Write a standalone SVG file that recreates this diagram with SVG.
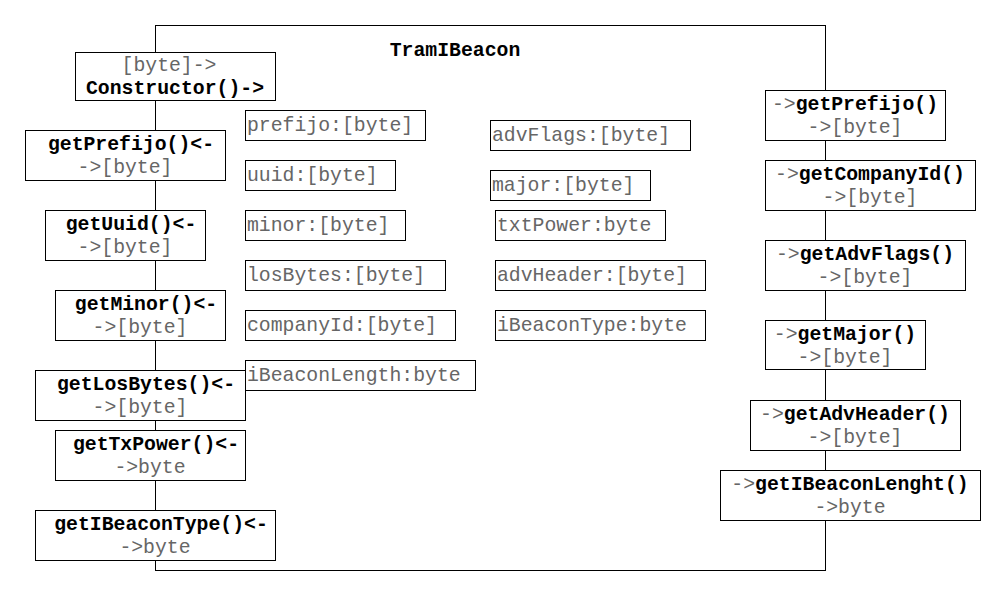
<svg xmlns="http://www.w3.org/2000/svg" width="1006" height="596" viewBox="0 0 1006 596">
<style>
rect{fill:#fff;stroke:#000;stroke-width:1}
.frame{fill:none}
text{font-family:"Liberation Mono","Courier New",monospace;font-size:19.8px;fill:#666}
.b{font-weight:bold;fill:#000}
.c{text-anchor:middle}
</style>
<rect width="1006" height="596" style="fill:#fff;stroke:none"/>
<g id="TramIBeacon">
<rect class="frame" x="155.5" y="25.5" width="670" height="545"/>
<text class="b c" x="455" y="56">TramIBeacon</text>
</g>
<g id="connectors"></g>
<g id="Constructor">
<rect x="75.5" y="52.5" width="200" height="48"/>
<text class="c" x="169" y="70.5">[byte]-&gt;</text>
<text class="b c" x="175" y="93.5">Constructor()-&gt;</text>
</g>
<g id="getPrefijoL">
<rect x="25.5" y="130.5" width="200" height="50"/>
<text class="b c" x="131" y="149.5">getPrefijo()&lt;-</text>
<text class="c" x="125" y="172.5">-&gt;[byte]</text>
</g>
<g id="getUuid">
<rect x="45.5" y="210.5" width="160" height="50"/>
<text class="b c" x="131" y="229.5">getUuid()&lt;-</text>
<text class="c" x="125" y="252.5">-&gt;[byte]</text>
</g>
<g id="getMinor">
<rect x="55.5" y="290.5" width="170" height="50"/>
<text class="b c" x="146" y="309.5">getMinor()&lt;-</text>
<text class="c" x="140" y="332.5">-&gt;[byte]</text>
</g>
<g id="getLosBytes">
<rect x="35.5" y="370.5" width="210" height="50"/>
<text class="b c" x="146" y="389.5">getLosBytes()&lt;-</text>
<text class="c" x="140" y="412.5">-&gt;[byte]</text>
</g>
<g id="getTxPower">
<rect x="55.5" y="430.5" width="190" height="50"/>
<text class="b c" x="156" y="449.5">getTxPower()&lt;-</text>
<text class="c" x="150" y="472.5">-&gt;byte</text>
</g>
<g id="getIBeaconType">
<rect x="35.5" y="510.5" width="240" height="50"/>
<text class="b c" x="161" y="529.5">getIBeaconType()&lt;-</text>
<text class="c" x="155" y="552.5">-&gt;byte</text>
</g>
<g id="attr-prefijo"><rect x="245.5" y="110.5" width="180" height="30"/><text x="247" y="131">prefijo:[byte]</text></g>
<g id="attr-uuid"><rect x="245.5" y="160.5" width="150" height="30"/><text x="247" y="181">uuid:[byte]</text></g>
<g id="attr-minor"><rect x="245.5" y="210.5" width="160" height="30"/><text x="247" y="231">minor:[byte]</text></g>
<g id="attr-losBytes"><rect x="245.5" y="260.5" width="200" height="30"/><text x="247" y="281">losBytes:[byte]</text></g>
<g id="attr-companyId"><rect x="245.5" y="310.5" width="210" height="30"/><text x="247" y="331">companyId:[byte]</text></g>
<g id="attr-iBeaconLength"><rect x="245.5" y="360.5" width="230" height="30"/><text x="247" y="381">iBeaconLength:byte</text></g>
<g id="attr-advFlags"><rect x="490.5" y="120.5" width="200" height="30"/><text x="492" y="141">advFlags:[byte]</text></g>
<g id="attr-major"><rect x="490.5" y="170.5" width="160" height="30"/><text x="492" y="191">major:[byte]</text></g>
<g id="attr-txtPower"><rect x="495.5" y="210.5" width="170" height="30"/><text x="497" y="231">txtPower:byte</text></g>
<g id="attr-advHeader"><rect x="495.5" y="260.5" width="210" height="30"/><text x="497" y="281">advHeader:[byte]</text></g>
<g id="attr-iBeaconType"><rect x="495.5" y="310.5" width="210" height="30"/><text x="497" y="331">iBeaconType:byte</text></g>
<g id="getPrefijoR">
<rect x="765.5" y="90.5" width="180" height="50"/>
<text class="c" x="855" y="109.5">-&gt;<tspan class="b">getPrefijo()</tspan></text>
<text class="c" x="855" y="132.5">-&gt;[byte]</text>
</g>
<g id="getCompanyId">
<rect x="765.5" y="160.5" width="210" height="50"/>
<text class="c" x="870" y="179.5">-&gt;<tspan class="b">getCompanyId()</tspan></text>
<text class="c" x="870" y="202.5">-&gt;[byte]</text>
</g>
<g id="getAdvFlags">
<rect x="765.5" y="240.5" width="200" height="50"/>
<text class="c" x="865" y="259.5">-&gt;<tspan class="b">getAdvFlags()</tspan></text>
<text class="c" x="865" y="282.5">-&gt;[byte]</text>
</g>
<g id="getMajor">
<rect x="765.5" y="320.5" width="160" height="49"/>
<text class="c" x="845" y="339.5">-&gt;<tspan class="b">getMajor()</tspan></text>
<text class="c" x="845" y="362.5">-&gt;[byte]</text>
</g>
<g id="getAdvHeader">
<rect x="750.5" y="400.5" width="210" height="50"/>
<text class="c" x="855" y="419.5">-&gt;<tspan class="b">getAdvHeader()</tspan></text>
<text class="c" x="855" y="442.5">-&gt;[byte]</text>
</g>
<g id="getIBeaconLenght">
<rect x="720.5" y="470.5" width="260" height="50"/>
<text class="c" x="850" y="489.5">-&gt;<tspan class="b">getIBeaconLenght()</tspan></text>
<text class="c" x="850" y="512.5">-&gt;byte</text>
</g>
</svg>
